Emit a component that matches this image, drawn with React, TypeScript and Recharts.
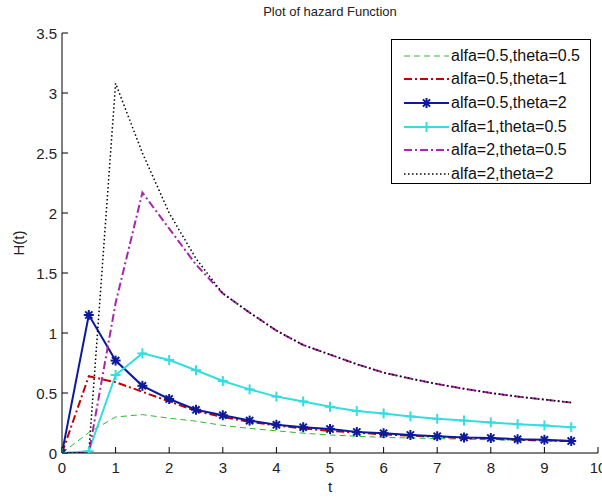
import React from 'react';
import { LineChart, Line, XAxis, YAxis, Legend } from 'recharts';

const tValues = [0, 0.5, 1, 1.5, 2, 2.5, 3, 3.5, 4, 4.5, 5, 5.5, 6, 6.5, 7, 7.5, 8, 8.5, 9, 9.5];
const a05t05 = [0, 0.17, 0.3, 0.32, 0.29, 0.265, 0.23, 0.205, 0.185, 0.165, 0.15, 0.14, 0.13, 0.125, 0.12, 0.115, 0.11, 0.105, 0.1, 0.095];
const a05t1 = [0, 0.64, 0.59, 0.51, 0.43, 0.35, 0.3, 0.26, 0.23, 0.205, 0.185, 0.17, 0.155, 0.145, 0.135, 0.125, 0.12, 0.11, 0.105, 0.1];
const a05t2 = [0, 1.15, 0.77, 0.56, 0.45, 0.36, 0.315, 0.27, 0.235, 0.215, 0.2, 0.175, 0.165, 0.15, 0.14, 0.13, 0.125, 0.115, 0.11, 0.1];
const a1t05 = [0, 0.015, 0.65, 0.83, 0.775, 0.69, 0.6, 0.53, 0.47, 0.43, 0.385, 0.35, 0.33, 0.305, 0.285, 0.27, 0.255, 0.24, 0.23, 0.215];
const a2t05 = [0, 0, 1.25, 2.17, 1.87, 1.57, 1.33, 1.17, 1.02, 0.9, 0.82, 0.74, 0.67, 0.62, 0.575, 0.535, 0.5, 0.47, 0.445, 0.42];
const a2t2 = [0, 0, 3.08, 2.5, 2.0, 1.62, 1.33, 1.17, 1.02, 0.9, 0.82, 0.74, 0.67, 0.62, 0.575, 0.535, 0.5, 0.47, 0.445, 0.42];

const xTicks = [0, 1, 2, 3, 4, 5, 6, 7, 8, 9, 10];
const yTicks = [0, 0.5, 1, 1.5, 2, 2.5, 3, 3.5];

const seriesNames = [
  'alfa=0.5,theta=0.5',
  'alfa=0.5,theta=1',
  'alfa=0.5,theta=2',
  'alfa=1,theta=0.5',
  'alfa=2,theta=0.5',
  'alfa=2,theta=2',
];
const seriesValues = [a05t05, a05t1, a05t2, a1t05, a2t05, a2t2];

const styles = [
  { color: '#2cbb2c', width: 1, dash: '6 4', marker: 'none' },
  { color: '#c00000', width: 2, dash: '8 3 2 3', marker: 'none' },
  { color: '#0d1a9e', width: 2, dash: undefined, marker: 'star' },
  { color: '#33dde0', width: 2, dash: undefined, marker: 'plus' },
  { color: '#a826a8', width: 2, dash: '8 3 2 3', marker: 'none' },
  { color: '#000000', width: 1.5, dash: '1.5 2.5', marker: 'none' },
];

const data = tValues.map((t, i) => {
  const row: Record<string, number> = { t };
  seriesValues.forEach((vals, k) => {
    row['s' + k] = vals[i];
  });
  return row;
});

const FONT = '"Liberation Sans", Arial, sans-serif';

function markerShape(kind: string, cx: number, cy: number, color: string, key?: any) {
  if (kind === 'star') {
    const r = 5;
    const d = 3.6;
    return (
      <g key={key}>
        <line x1={cx - r} y1={cy} x2={cx + r} y2={cy} stroke={color} strokeWidth={2} />
        <line x1={cx} y1={cy - r} x2={cx} y2={cy + r} stroke={color} strokeWidth={2} />
        <line x1={cx - d} y1={cy - d} x2={cx + d} y2={cy + d} stroke={color} strokeWidth={2} />
        <line x1={cx - d} y1={cy + d} x2={cx + d} y2={cy - d} stroke={color} strokeWidth={2} />
        <circle cx={cx} cy={cy} r={2.5} fill={color} />
      </g>
    );
  }
  if (kind === 'plus') {
    const r = 5;
    return (
      <g key={key}>
        <line x1={cx - r} y1={cy} x2={cx + r} y2={cy} stroke={color} strokeWidth={2} />
        <line x1={cx} y1={cy - r} x2={cx} y2={cy + r} stroke={color} strokeWidth={2} />
      </g>
    );
  }
  return <g key={key} />;
}

const BottomTick = (props: any) => {
  const { x, y, payload } = props;
  return (
    <g>
      <line x1={x} x2={x} y1={y} y2={y - 6} stroke="#000" strokeWidth={1} />
      <text x={x} y={y + 20} textAnchor="middle" fontSize={15} fontFamily={FONT} fill="#222">
        {payload.value}
      </text>
    </g>
  );
};

const TopTick = (props: any) => {
  const { x, y } = props;
  return <line x1={x} x2={x} y1={y} y2={y + 6} stroke="#000" strokeWidth={1} />;
};

const LeftTick = (props: any) => {
  const { x, y, payload } = props;
  return (
    <g>
      <line x1={x} x2={x + 6} y1={y} y2={y} stroke="#000" strokeWidth={1} />
      <text x={x - 5} y={y} textAnchor="end" dominantBaseline="central" fontSize={15} fontFamily={FONT} fill="#222">
        {payload.value}
      </text>
    </g>
  );
};

const RightTick = (props: any) => {
  const { x, y } = props;
  return <line x1={x - 6} x2={x} y1={y} y2={y} stroke="#000" strokeWidth={1} />;
};

const LegendBox = () => (
  <div
    style={{
      width: 200,
      height: 145,
      boxSizing: 'border-box',
      border: '1px solid #000',
      background: '#fff',
      paddingTop: 4,
      fontFamily: FONT,
      fontSize: 16,
      color: '#111',
    }}
  >
    {seriesNames.map((name, i) => {
      const st = styles[i];
      return (
        <div key={name} style={{ height: 23.6, display: 'flex', alignItems: 'center', whiteSpace: 'nowrap' }}>
          <svg width={58} height={20} style={{ display: 'block' }}>
            <line x1={12} x2={57} y1={10} y2={10} stroke={st.color} strokeWidth={st.width} strokeDasharray={st.dash} />
            {markerShape(st.marker, 34.5, 10, st.color)}
          </svg>
          <span style={{ marginLeft: 1 }}>{name}</span>
        </div>
      );
    })}
  </div>
);

export default function App() {
  return (
    <div style={{ position: 'absolute', left: 0, top: 0, width: 602, height: 498, background: '#fff', fontFamily: FONT }}>
      <div
        style={{
          position: 'absolute',
          left: 0,
          width: 660,
          top: 4,
          textAlign: 'center',
          fontSize: 13,
          color: '#222',
          fontFamily: FONT,
          zIndex: 2,
        }}
      >
        Plot of hazard Function
      </div>
      <LineChart width={602} height={498} data={data} margin={{ top: 33, right: 4, bottom: 15, left: 7 }}>
        <XAxis
          xAxisId="b"
          dataKey="t"
          type="number"
          domain={[0, 10]}
          ticks={xTicks}
          interval={0}
          height={30}
          tickSize={0}
          tickMargin={0}
          tickLine={false}
          tick={<BottomTick />}
          axisLine={{ stroke: '#000' }}
          allowDataOverflow
          label={{
            content: (p: any) => (
              <text x={330} y={492} textAnchor="middle" fontSize={15} fontFamily={FONT} fill="#222">
                t
              </text>
            ),
          }}
        />
        <XAxis
          xAxisId="top"
          orientation="top"
          dataKey="t"
          type="number"
          domain={[0, 10]}
          ticks={xTicks}
          interval={0}
          height={0}
          tickSize={0}
          tickMargin={0}
          tickLine={false}
          tick={<TopTick />}
          axisLine={{ stroke: '#000' }}
          allowDataOverflow
        />
        <YAxis
          yAxisId="l"
          type="number"
          domain={[0, 3.5]}
          ticks={yTicks}
          interval={0}
          width={55}
          tickSize={0}
          tickMargin={0}
          tickLine={false}
          tick={<LeftTick />}
          axisLine={{ stroke: '#000' }}
          allowDataOverflow
          label={{
            content: (p: any) => (
              <text
                x={18}
                y={243}
                transform="rotate(-90 18 243)"
                textAnchor="middle"
                dominantBaseline="central"
                fontSize={15}
                fontFamily={FONT}
                fill="#222"
              >
                H(t)
              </text>
            ),
          }}
        />
        <YAxis
          yAxisId="r"
          orientation="right"
          type="number"
          domain={[0, 3.5]}
          ticks={yTicks}
          interval={0}
          width={0}
          tickSize={0}
          tickMargin={0}
          tickLine={false}
          tick={<RightTick />}
          axisLine={{ stroke: '#000' }}
          allowDataOverflow
        />
        {styles.map((st, k) => (
          <Line
            key={k}
            xAxisId="b"
            yAxisId="l"
            type="linear"
            dataKey={'s' + k}
            name={seriesNames[k]}
            stroke={st.color}
            strokeWidth={st.width}
            strokeDasharray={st.dash}
            isAnimationActive={false}
            activeDot={false}
            dot={
              st.marker === 'none'
                ? false
                : (p: any) => markerShape(st.marker, p.cx, p.cy, st.color, 'm' + k + '-' + p.index)
            }
          />
        ))}
        <Legend
          layout="vertical"
          align="center"
          verticalAlign="middle"
          content={<LegendBox />}
          wrapperStyle={{ left: 391, top: 39, width: 200, height: 145 }}
        />
      </LineChart>
    </div>
  );
}
